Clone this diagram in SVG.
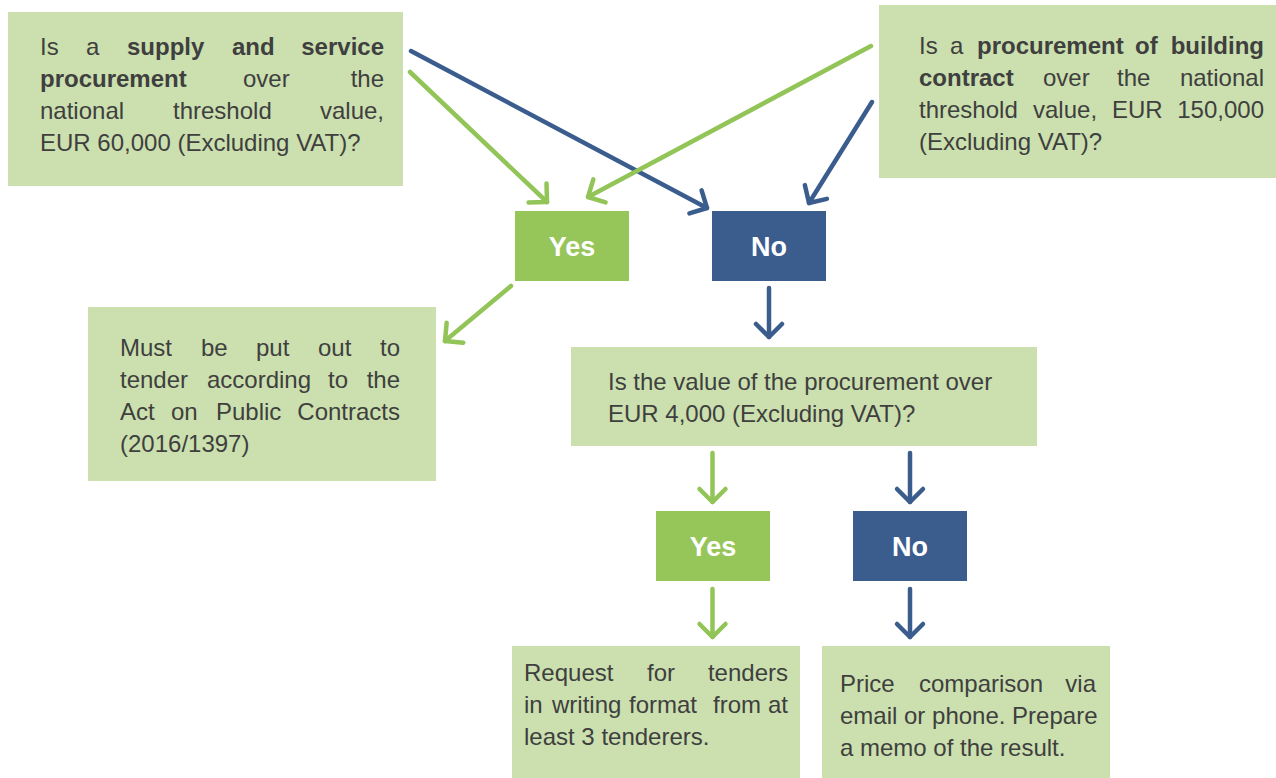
<svg xmlns="http://www.w3.org/2000/svg" width="1276" height="778" viewBox="0 0 1276 778">
<style>
.box{fill:#cbe0ae}
.yes{fill:#96c65a}
.no{fill:#3a5d8e}
.t{font-family:"Liberation Sans",Arial,sans-serif;font-size:24px;fill:#3f3f3f}
.b{font-weight:bold}
.lbl{font-family:"Liberation Sans",Arial,sans-serif;font-size:27px;font-weight:bold;fill:#ffffff;text-anchor:middle}
.e{text-anchor:end}
.cg{stroke:#92c457;stroke-width:4.5;stroke-linecap:round;fill:none}
.cb{stroke:#3a5d8e;stroke-width:4.5;stroke-linecap:round;fill:none}
</style>
<defs>
<marker id="ag" markerUnits="userSpaceOnUse" markerWidth="40" markerHeight="40" viewBox="-20 -20 40 40" refX="0" refY="0" orient="auto" overflow="visible">
<path d="M-13,-13 L0,0 L-13,13" fill="none" stroke="#92c457" stroke-width="4.5" stroke-linecap="round" stroke-linejoin="round"/>
</marker>
<marker id="ab" markerUnits="userSpaceOnUse" markerWidth="40" markerHeight="40" viewBox="-20 -20 40 40" refX="0" refY="0" orient="auto" overflow="visible">
<path d="M-13,-13 L0,0 L-13,13" fill="none" stroke="#3a5d8e" stroke-width="4.5" stroke-linecap="round" stroke-linejoin="round"/>
</marker>
</defs>
<rect width="1276" height="778" fill="#ffffff"/>

<g id="q-supply">
<rect class="box" x="8" y="12" width="395" height="174"/>
<text class="t" y="55"><tspan x="40">Is</tspan><tspan x="86">a</tspan><tspan x="127" class="b">supply</tspan><tspan x="232" class="b">and</tspan><tspan x="384" class="b e">service</tspan></text>
<text class="t" y="87"><tspan x="40" class="b">procurement</tspan><tspan x="243">over</tspan><tspan x="384" class="e">the</tspan></text>
<text class="t" y="119"><tspan x="40">national</tspan><tspan x="173">threshold</tspan><tspan x="384" class="e">value,</tspan></text>
<text class="t" x="40" y="151">EUR 60,000 (Excluding VAT)?</text>
</g>

<g id="q-building">
<rect class="box" x="879" y="5" width="397" height="173"/>
<text class="t" y="54"><tspan x="919">Is</tspan><tspan x="950">a</tspan><tspan x="977" class="b">procurement</tspan><tspan x="1135" class="b">of</tspan><tspan x="1264" class="b e">building</tspan></text>
<text class="t" y="86"><tspan x="919" class="b">contract</tspan><tspan x="1043">over</tspan><tspan x="1117">the</tspan><tspan x="1264" class="e">national</tspan></text>
<text class="t" y="118"><tspan x="919">threshold</tspan><tspan x="1033">value,</tspan><tspan x="1112">EUR</tspan><tspan x="1264" class="e">150,000</tspan></text>
<text class="t" x="919" y="150">(Excluding VAT)?</text>
</g>

<g id="yes1">
<rect class="yes" x="515" y="211" width="114" height="70"/>
<text class="lbl" x="572" y="256">Yes</text>
</g>

<g id="no1">
<rect class="no" x="712" y="211" width="114" height="70"/>
<text class="lbl" x="769" y="256">No</text>
</g>

<g id="must-tender">
<rect class="box" x="88" y="307" width="348" height="174"/>
<text class="t" y="356"><tspan x="120">Must</tspan><tspan x="201">be</tspan><tspan x="256">put</tspan><tspan x="318">out</tspan><tspan x="400" class="e">to</tspan></text>
<text class="t" y="388"><tspan x="120">tender</tspan><tspan x="207">according</tspan><tspan x="328">to</tspan><tspan x="400" class="e">the</tspan></text>
<text class="t" y="420"><tspan x="120">Act</tspan><tspan x="171">on</tspan><tspan x="216">Public</tspan><tspan x="400" class="e">Contracts</tspan></text>
<text class="t" x="120" y="452">(2016/1397)</text>
</g>

<g id="q-value">
<rect class="box" x="571" y="347" width="466" height="99"/>
<text class="t" x="608" y="390">Is the value of the procurement over</text>
<text class="t" x="608" y="422">EUR 4,000 (Excluding VAT)?</text>
</g>

<g id="yes2">
<rect class="yes" x="656" y="511" width="114" height="70"/>
<text class="lbl" x="713" y="556">Yes</text>
</g>

<g id="no2">
<rect class="no" x="853" y="511" width="114" height="70"/>
<text class="lbl" x="910" y="556">No</text>
</g>

<g id="request-tenders">
<rect class="box" x="512" y="646" width="288" height="132"/>
<text class="t" y="681"><tspan x="524">Request</tspan><tspan x="647">for</tspan><tspan x="788" class="e">tenders</tspan></text>
<text class="t" y="713"><tspan x="524">in</tspan><tspan x="552">writing</tspan><tspan x="629">format</tspan><tspan x="713">from</tspan><tspan x="788" class="e">at</tspan></text>
<text class="t" x="524" y="745">least 3 tenderers.</text>
</g>

<g id="price-comparison">
<rect class="box" x="822" y="646" width="288" height="132"/>
<text class="t" y="692"><tspan x="840">Price</tspan><tspan x="919">comparison</tspan><tspan x="1096" class="e">via</tspan></text>
<text class="t" x="840" y="724">email or phone. Prepare</text>
<text class="t" x="840" y="756">a memo of the result.</text>
</g>

<g id="connectors">
<line class="cg" x1="410" y1="72" x2="547" y2="202" marker-end="url(#ag)"/>
<line class="cb" x1="411" y1="51" x2="707" y2="208" marker-end="url(#ab)"/>
<line class="cg" x1="871" y1="46" x2="588" y2="197" marker-end="url(#ag)"/>
<line class="cb" x1="872" y1="102" x2="809" y2="203" marker-end="url(#ab)"/>
<line class="cg" x1="511" y1="286" x2="445" y2="341" marker-end="url(#ag)"/>
<line class="cb" x1="769" y1="288" x2="769" y2="337" marker-end="url(#ab)"/>
<line class="cg" x1="712.5" y1="453" x2="712.5" y2="502" marker-end="url(#ag)"/>
<line class="cb" x1="910" y1="453" x2="910" y2="502" marker-end="url(#ab)"/>
<line class="cg" x1="712.5" y1="589" x2="712.5" y2="637" marker-end="url(#ag)"/>
<line class="cb" x1="910" y1="589" x2="910" y2="637" marker-end="url(#ab)"/>
</g>
</svg>
